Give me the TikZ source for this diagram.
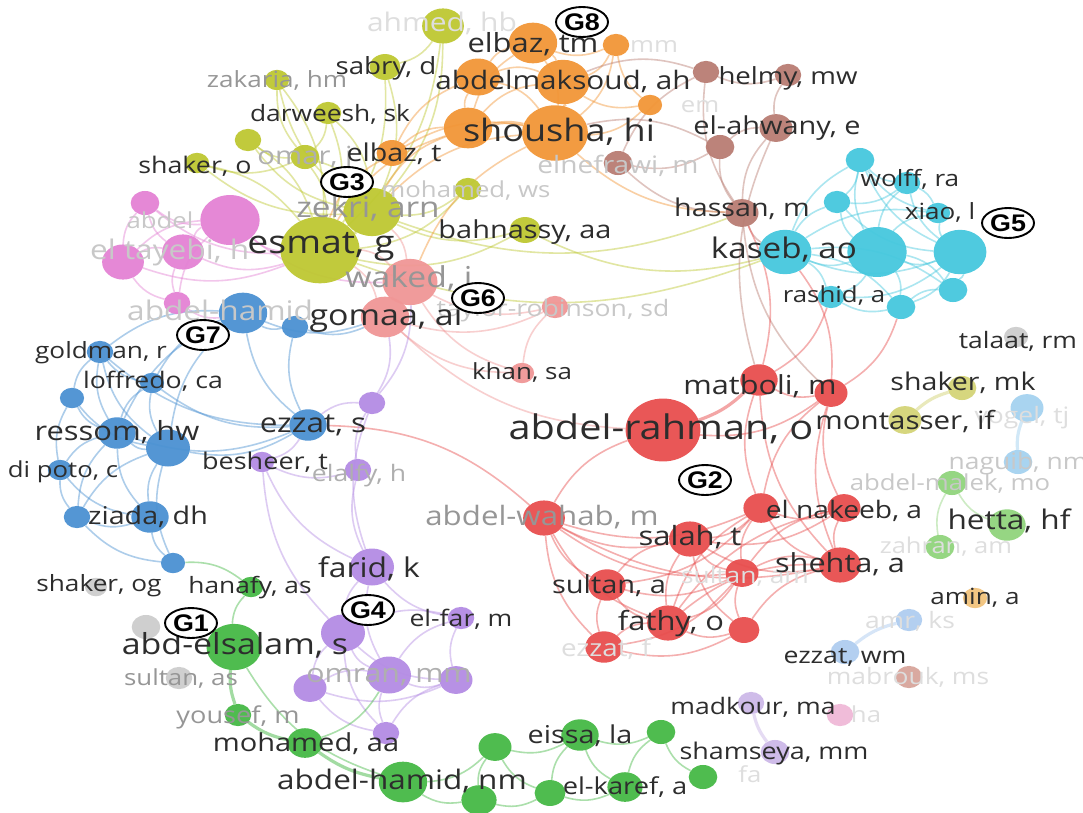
\documentclass[tikz,border=0pt]{standalone}
\usepackage{fontspec}
\setmainfont{Open Sans}[FakeStretch=1.17]
\newfontfamily\gfont{Liberation Sans}[FakeStretch=1.12]
\usetikzlibrary{shapes.geometric}
\pgfdeclarelayer{bgw}\pgfdeclarelayer{edges}\pgfdeclarelayer{labels}
\pgfsetlayers{bgw,edges,main,labels}

\definecolor{cRed}{RGB}{232,78,78}
\definecolor{cGreen}{RGB}{70,185,70}
\definecolor{cBlue}{RGB}{75,145,210}
\definecolor{cYel}{RGB}{190,200,50}
\definecolor{cPur}{RGB}{180,140,228}
\definecolor{cCyan}{RGB}{70,200,222}
\definecolor{cOra}{RGB}{242,150,55}
\definecolor{cBrn}{RGB}{185,125,115}
\definecolor{cPink}{RGB}{228,130,212}
\definecolor{cSal}{RGB}{240,150,150}
\definecolor{cLBlue}{RGB}{165,210,240}
\definecolor{cGray}{RGB}{205,205,205}
\definecolor{cTan}{RGB}{242,195,125}
\definecolor{cLGreen}{RGB}{145,212,125}
\definecolor{cOlive}{RGB}{212,212,120}
\definecolor{cLPur}{RGB}{205,185,232}
\definecolor{cLPink}{RGB}{240,185,215}
\definecolor{cLBrn}{RGB}{215,165,155}
\definecolor{cPeri}{RGB}{175,205,240}
\definecolor{txt}{RGB}{45,45,45}
\definecolor{gA}{RGB}{150,150,150}
\definecolor{gB}{RGB}{175,175,175}
\definecolor{gC}{RGB}{200,200,200}
\definecolor{gD}{RGB}{222,222,222}

\tikzset{
  dot/.style={ellipse, inner sep=0pt, draw=none, fill opacity=.95},
  ed/.style={draw=#1, line width=1.6pt, draw opacity=.45, bend right=20},
  edl/.style={draw=#1, line width=1.6pt, draw opacity=.45, bend left=20},
  edw/.style={draw=#1, line width=3.2pt, draw opacity=.5, bend right=12},
  lab/.style={anchor=base, inner sep=0pt, text=txt},
  glab/.style={ellipse, draw=black, line width=1.9pt, fill=white, inner sep=0pt,
    minimum width=52pt, minimum height=30pt,
    font=\gfont\bfseries\fontsize{24}{24}\selectfont}
}
% node: name, x, y, radius, colour
\newcommand\nd[5]{\node[dot,fill=#5,minimum width={2.2*#4},minimum height={1.85*#4}] (#1) at (#2,#3) {};}
% label: style, name, x, y (centre), size, text
\newcommand\lb[6]{\node[lab,#1,font=\fontsize{#5}{#5}\selectfont] (#2) at (#3,{#4+0.27*#5}) {#6};}

\begin{document}
\begin{tikzpicture}[x=1pt,y=-1pt]
\useasboundingbox (0,0) rectangle (1083,812);
\begin{pgfonlayer}{bgw}
  \fill[white] (0,0) rectangle (1083,812);
\end{pgfonlayer}

% ---------- nodes ----------
% yellow cluster
\nd{y_ahmed}{443}{26}{19}{cYel}
\nd{y_sabry}{385}{67}{14}{cYel}
\nd{y_zakaria}{277}{80}{11}{cYel}
\nd{y_darweesh}{328}{113}{12}{cYel}
\nd{y_a}{248}{140}{12}{cYel}
\nd{y_shaker}{197}{163}{11}{cYel}
\nd{y_omar}{305}{157}{13}{cYel}
\nd{y_mohws}{468}{189}{12}{cYel}
\nd{y_zekri}{372}{212}{26}{cYel}
\nd{y_esmat}{320}{250}{36}{cYel}
\nd{y_bahn}{525}{230}{14}{cYel}
% orange cluster
\nd{o_elbaztm}{533}{43}{22}{cOra}
\nd{o_a}{616}{45}{12}{cOra}
\nd{o_c}{478}{77}{20}{cOra}
\nd{o_abdelm}{563}{82}{24}{cOra}
\nd{o_b}{650}{105}{11}{cOra}
\nd{o_d}{468}{128}{22}{cOra}
\nd{o_shousha}{555}{133}{30}{cOra}
\nd{o_elbazt}{392}{153}{14}{cOra}
% brown cluster
\nd{b_a}{706}{72}{12}{cBrn}
\nd{b_helmy}{788}{75}{12}{cBrn}
\nd{b_ahw}{776}{128}{15}{cBrn}
\nd{b_b}{720}{147}{13}{cBrn}
\nd{b_nef}{618}{163}{13}{cBrn}
\nd{b_hassan}{742}{213}{15}{cBrn}
% cyan cluster
\nd{c_a}{860}{160}{13}{cCyan}
\nd{c_wolff}{907}{183}{12}{cCyan}
\nd{c_b}{837}{202}{12}{cCyan}
\nd{c_xiao}{938}{213}{11}{cCyan}
\nd{c_kaseb}{785}{252}{24}{cCyan}
\nd{c_big}{877}{252}{27}{cCyan}
\nd{c_right}{960}{252}{24}{cCyan}
\nd{c_rashid}{831}{297}{12}{cCyan}
\nd{c_d}{901}{307}{13}{cCyan}
\nd{c_e}{953}{290}{13}{cCyan}
% red cluster
\nd{r_matboli}{759}{380}{17}{cRed}
\nd{r_a}{831}{393}{15}{cRed}
\nd{r_rahman}{663}{430}{34}{cRed}
\nd{r_wahab}{544}{518}{19}{cRed}
\nd{r_nak1}{761}{508}{16}{cRed}
\nd{r_nak2}{844}{508}{15}{cRed}
\nd{r_salah}{690}{539}{19}{cRed}
\nd{r_shehta}{840}{565}{19}{cRed}
\nd{r_sultam}{742}{573}{15}{cRed}
\nd{r_sultana}{607}{585}{17}{cRed}
\nd{r_fathy}{668}{623}{19}{cRed}
\nd{r_b}{744}{630}{14}{cRed}
\nd{r_ezzat}{604}{647}{17}{cRed}
% salmon cluster
\nd{s_waked}{410}{282}{25}{cSal}
\nd{s_gomaa}{385}{317}{22}{cSal}
\nd{s_taylor}{555}{307}{12}{cSal}
\nd{s_khan}{522}{373}{11}{cSal}
% pink cluster
\nd{p_a}{145}{203}{13}{cPink}
\nd{p_big}{230}{220}{27}{cPink}
\nd{p_b}{183}{252}{19}{cPink}
\nd{p_c}{123}{262}{19}{cPink}
\nd{p_d}{177}{303}{12}{cPink}
% blue cluster
\nd{bl_hamid}{243}{313}{22}{cBlue}
\nd{bl_a}{295}{327}{12}{cBlue}
\nd{bl_goldman}{100}{352}{12}{cBlue}
\nd{bl_lof}{152}{383}{11}{cBlue}
\nd{bl_c}{72}{398}{11}{cBlue}
\nd{bl_ressom}{117}{433}{17}{cBlue}
\nd{bl_d}{168}{448}{20}{cBlue}
\nd{bl_ezzat}{308}{425}{17}{cBlue}
\nd{bl_dipoto}{60}{470}{11}{cBlue}
\nd{bl_e}{77}{517}{12}{cBlue}
\nd{bl_ziada}{150}{517}{17}{cBlue}
\nd{bl_f}{173}{563}{11}{cBlue}
% purple cluster
\nd{l_a}{372}{403}{12}{cPur}
\nd{l_besheer}{262}{462}{11}{cPur}
\nd{l_elalfy}{358}{470}{12}{cPur}
\nd{l_farid}{372}{567}{20}{cPur}
\nd{l_elfar}{461}{618}{12}{cPur}
\nd{l_big}{343}{633}{20}{cPur}
\nd{l_omran}{389}{675}{20}{cPur}
\nd{l_b}{310}{688}{15}{cPur}
\nd{l_c}{456}{680}{15}{cPur}
\nd{l_d}{386}{733}{12}{cPur}
% green cluster
\nd{g_hanafy}{251}{587}{11}{cGreen}
\nd{g_abd}{234}{647}{25}{cGreen}
\nd{g_yousef}{238}{715}{12}{cGreen}
\nd{g_moh}{305}{743}{16}{cGreen}
\nd{g_hamid}{403}{782}{22}{cGreen}
\nd{g_a}{479}{800}{16}{cGreen}
\nd{g_b}{495}{747}{15}{cGreen}
\nd{g_eissa}{580}{735}{17}{cGreen}
\nd{g_c}{661}{732}{13}{cGreen}
\nd{g_karef}{625}{787}{16}{cGreen}
\nd{g_d}{550}{793}{14}{cGreen}
\nd{g_e}{703}{777}{13}{cGreen}
% small groups
\nd{lg_malek}{952}{483}{13}{cLGreen}
\nd{lg_hetta}{1007}{525}{17}{cLGreen}
\nd{lg_zahran}{940}{547}{13}{cLGreen}
\nd{gr_talaat}{1016}{337}{11}{cGray}
\nd{gr_og}{96}{587}{10}{cGray}
\nd{gr_a}{146}{627}{13}{cGray}
\nd{gr_as}{179}{678}{12}{cGray}
\nd{ol_mk}{962}{388}{13}{cOlive}
\nd{ol_mont}{905}{420}{15}{cOlive}
\nd{lb_vogel}{1027}{408}{15}{cLBlue}
\nd{lb_naguib}{1018}{462}{13}{cLBlue}
\nd{tn_amin}{975}{598}{11}{cTan}
\nd{pb_amr}{909}{620}{12}{cPeri}
\nd{pb_wm}{845}{652}{13}{cPeri}
\nd{lbr_mab}{909}{677}{12}{cLBrn}
\nd{lv_mad}{751}{703}{12}{cLPur}
\nd{lv_sham}{775}{752}{13}{cLPur}
\nd{lp_ha}{840}{715}{12}{cLPink}

% ---------- links ----------
\begin{pgfonlayer}{edges}
\foreach \a/\b in {y_esmat/y_omar,y_esmat/y_a,y_esmat/y_shaker,y_esmat/y_darweesh,y_esmat/y_sabry,
  y_esmat/y_zakaria,y_esmat/y_ahmed,y_esmat/y_bahn,y_esmat/y_mohws,y_zekri/y_sabry,y_zekri/y_ahmed,
  y_zekri/y_bahn,y_zekri/y_omar,y_zekri/y_darweesh,y_zekri/y_mohws,y_omar/y_darweesh,y_a/y_omar,
  y_shaker/y_omar,y_zakaria/y_omar,y_sabry/y_ahmed,y_shaker/y_zekri,y_a/y_zekri,y_zakaria/y_zekri,
  y_bahn/c_kaseb,y_esmat/c_kaseb,y_zekri/b_hassan}
  \draw[ed=cYel] (\a) to (\b);
\draw[edw=cYel] (y_esmat) to (y_zekri);
\foreach \a/\b in {o_shousha/o_elbaztm,o_shousha/o_c,o_shousha/o_a,o_shousha/o_b,o_shousha/o_elbazt,
  o_abdelm/o_elbaztm,o_abdelm/o_c,o_abdelm/o_a,o_abdelm/o_d,o_abdelm/o_b,o_elbaztm/o_a,o_elbaztm/o_c,
  o_elbaztm/o_d,o_c/o_d,o_d/o_elbazt,o_c/o_elbazt,o_a/o_b,o_d/y_esmat,o_shousha/y_zekri,
  o_shousha/b_hassan,o_shousha/s_waked,o_d/y_zekri,o_elbazt/y_esmat}
  \draw[ed=cOra] (\a) to (\b);
\draw[edw=cOra] (o_shousha) to (o_d);
\draw[edw=cOra] (o_shousha) to (o_abdelm);
\foreach \a/\b in {b_a/b_helmy,b_helmy/b_ahw,b_ahw/b_b,b_b/b_hassan,b_ahw/b_hassan,b_nef/b_b,
  b_nef/b_hassan,b_a/b_nef,b_a/b_hassan,b_hassan/c_kaseb,b_ahw/r_matboli,b_hassan/r_a,
  b_b/o_shousha,b_a/o_abdelm}
  \draw[ed=cBrn] (\a) to (\b);
\foreach \a/\b in {c_kaseb/c_big,c_kaseb/c_right,c_big/c_right,c_a/c_wolff,c_a/c_big,c_wolff/c_big,
  c_wolff/c_right,c_xiao/c_right,c_xiao/c_big,c_b/c_big,c_b/c_kaseb,c_rashid/c_kaseb,c_rashid/c_big,
  c_d/c_big,c_d/c_right,c_e/c_right,c_e/c_big,c_d/c_kaseb,c_a/c_kaseb,c_xiao/c_wolff,c_e/c_d,
  c_rashid/c_d,c_a/c_right,c_b/c_right,c_xiao/c_kaseb,c_e/c_kaseb,c_a/c_xiao,c_b/c_wolff,
  c_rashid/c_right,c_b/c_a}
  \draw[ed=cCyan] (\a) to (\b);
\foreach \a/\b in {r_rahman/r_a,r_rahman/r_wahab,r_matboli/r_a,r_a/r_nak2,r_a/r_shehta,
  r_matboli/r_nak1,r_wahab/r_salah,r_wahab/r_sultana,r_wahab/r_fathy,r_wahab/r_sultam,r_wahab/r_ezzat,
  r_wahab/r_nak1,r_salah/r_nak1,r_salah/r_nak2,r_salah/r_shehta,r_salah/r_sultana,r_salah/r_fathy,
  r_salah/r_sultam,r_salah/r_b,r_nak1/r_nak2,r_nak1/r_shehta,r_nak2/r_shehta,r_nak1/r_sultam,
  r_shehta/r_sultam,r_shehta/r_fathy,r_shehta/r_b,r_sultana/r_fathy,r_sultana/r_ezzat,
  r_sultana/r_sultam,r_fathy/r_ezzat,r_fathy/r_b,r_fathy/r_sultam,r_ezzat/r_b,r_sultam/r_b,
  r_nak2/r_sultam,r_nak2/r_fathy,r_nak1/r_fathy,r_wahab/r_shehta,r_sultana/r_nak1,r_ezzat/r_sultam,
  r_a/r_nak1,r_matboli/r_shehta,r_matboli/c_rashid,r_a/c_d,r_a/c_kaseb,r_matboli/b_hassan}
  \draw[ed=cRed] (\a) to (\b);
\draw[edl=cRed] (bl_ezzat) to (r_wahab);
\draw[edw=cRed] (r_rahman) to (r_matboli);
\foreach \a/\b in {s_waked/s_taylor,s_gomaa/s_taylor,s_taylor/s_khan,s_gomaa/s_khan,s_waked/s_khan,
  s_waked/y_esmat,s_gomaa/y_esmat,s_waked/y_zekri,s_gomaa/r_rahman}
  \draw[ed=cSal] (\a) to (\b);
\draw[edw=cSal] (s_waked) to (s_gomaa);
\foreach \a/\b in {p_a/p_big,p_a/p_b,p_a/p_c,p_big/p_b,p_big/p_c,p_b/p_c,p_b/p_d,p_c/p_d,p_big/p_d,
  p_big/y_esmat,p_c/y_esmat,p_a/y_esmat,p_b/y_esmat,p_d/bl_hamid,p_big/s_waked}
  \draw[ed=cPink] (\a) to (\b);
\foreach \a/\b in {bl_hamid/bl_a,bl_hamid/bl_goldman,bl_hamid/bl_ressom,bl_hamid/bl_d,
  bl_hamid/bl_ezzat,bl_hamid/bl_lof,bl_goldman/bl_lof,bl_goldman/bl_c,bl_goldman/bl_ressom,
  bl_lof/bl_ressom,bl_lof/bl_d,bl_c/bl_ressom,bl_c/bl_dipoto,bl_ressom/bl_d,bl_ressom/bl_dipoto,
  bl_ressom/bl_ziada,bl_ressom/bl_e,bl_d/bl_ziada,bl_d/bl_e,bl_d/bl_ezzat,bl_dipoto/bl_e,
  bl_dipoto/bl_ziada,bl_e/bl_ziada,bl_ziada/bl_f,bl_e/bl_f,bl_d/bl_f,bl_ressom/bl_ezzat,bl_a/bl_ezzat,
  bl_goldman/bl_ezzat,bl_lof/bl_ezzat,bl_hamid/s_gomaa,bl_a/s_gomaa,bl_c/bl_d,bl_goldman/bl_d}
  \draw[ed=cBlue] (\a) to (\b);
\foreach \a/\b in {l_a/bl_ezzat,l_a/l_elalfy,l_a/l_farid,l_besheer/bl_ezzat,l_besheer/l_elalfy,
  l_besheer/l_farid,l_elalfy/l_farid,l_farid/l_big,l_farid/l_omran,l_farid/l_elfar,l_big/l_omran,
  l_big/l_b,l_big/l_c,l_omran/l_b,l_omran/l_c,l_omran/l_d,l_b/l_d,l_c/l_d,l_elfar/l_c,l_elfar/l_omran,
  l_big/l_d,l_b/l_c,l_a/s_gomaa,l_besheer/l_big,l_elfar/l_big,l_a/s_waked}
  \draw[ed=cPur] (\a) to (\b);
\foreach \a/\b in {g_hanafy/g_abd,g_hamid/g_a,g_hamid/g_b,g_b/g_eissa,g_b/g_d,g_a/g_d,g_eissa/g_c,
  g_eissa/g_karef,g_eissa/g_d,g_c/g_karef,g_c/g_e,g_d/g_karef,g_moh/l_omran,g_hanafy/bl_f,
  g_abd/g_hamid,g_b/g_a}
  \draw[ed=cGreen] (\a) to (\b);
\foreach \a/\b in {g_abd/g_yousef,g_yousef/g_moh,g_moh/g_hamid}
  \draw[edw=cGreen] (\a) to (\b);
\draw[ed=cLGreen] (lg_malek) to (lg_hetta);
\draw[ed=cLGreen] (lg_malek) to (lg_zahran);
\draw[edw=cOlive] (ol_mk) to (ol_mont);
\draw[edw=cLBlue] (lb_vogel) to (lb_naguib);
\draw[edw=cPeri] (pb_amr) to (pb_wm);
\draw[edw=cLPur] (lv_mad) to (lv_sham);
\end{pgfonlayer}

% ---------- labels ----------
\begin{pgfonlayer}{labels}
% faint labels
\lb{text=gD}{t_ahmed}{442}{25}{25.6}{ahmed, hb}
\lb{text=gD}{t_mm}{654}{47}{22}{mm}
\lb{text=gD}{t_em}{700}{107}{22}{em}
\lb{text=gC}{t_nef}{618}{167}{24}{elnefrawi, m}
\lb{text=gC}{t_mohws}{466}{192}{22}{mohamed, ws}
\node[lab,anchor=base west,text=gC,font=\fontsize{27}{27}\selectfont] (t_eltay) at (90,{252+0.27*27}) {el tayebi, h};
\lb{text=gC}{t_abdel}{160}{223}{22}{abdel}
\node[lab,anchor=base west,text=gC,font=\fontsize{27}{27}\selectfont] (t_hamidb) at (127,{313+0.27*27}) {abdel-hamid};
\lb{text=gC}{t_taylor}{553}{310}{22.7}{taylor-robinson, sd}
\lb{text=gD}{t_vogel}{1022}{417}{22.6}{vogel, tj}
\lb{text=gC}{t_naguib}{1018}{463}{22.6}{naguib, nm}
\lb{text=gC}{t_malek}{950}{485}{22}{abdel-malek, mo}
\lb{text=gD}{t_zahran}{946}{548}{21.8}{zahran, am}
\lb{text=gD}{t_sultam}{745}{577}{22.5}{sultan, am}
\lb{text=gD}{t_amr}{910}{622}{22.6}{amr, ks}
\lb{text=gD}{t_ezzatf}{606}{650}{23.7}{ezzat, f}
\lb{text=gD}{t_mab}{908}{678}{22.6}{mabrouk, ms}
\lb{text=gD}{t_ha}{866}{717}{22}{ha}
\lb{text=gD}{t_fa}{750}{777}{22}{fa}
% grey labels
\lb{text=gA}{t_zakaria}{277}{81}{22.3}{zakaria, hm}
\lb{text=gB}{t_omar}{305}{158}{25}{omar, j}
\lb{text=gA}{t_zekri}{368}{210}{28.5}{zekri, arn}
\lb{text=gA}{t_waked}{409}{280}{28.8}{waked, j}
\lb{text=gB}{t_elalfy}{359}{475}{22.7}{elalfy, h}
\lb{text=gA}{t_wahab}{542}{518}{26.7}{abdel-wahab, m}
\lb{text=gB}{t_omran}{389}{675}{25.9}{omran, mm}
\lb{text=gA}{t_sultanas}{181}{680}{22.1}{sultan, as}
\lb{text=gA}{t_yousef}{238}{717}{23.2}{yousef, m}
% dark labels
\lb{}{t_elbaztm}{533}{45}{26.4}{elbaz, tm}
\lb{}{t_sabry}{386}{68}{23.7}{sabry, d}
\lb{}{t_abdelm}{563}{83}{25.4}{abdelmaksoud, ah}
\lb{}{t_helmy}{788}{78}{23.6}{helmy, mw}
\lb{}{t_darw}{330}{115}{22.5}{darweesh, sk}
\lb{}{t_ahw}{777}{128}{24.7}{el-ahwany, e}
\lb{}{t_shousha}{559}{133}{30.8}{shousha, hi}
\lb{}{t_shaker}{195}{167}{22.9}{shaker, o}
\lb{}{t_elbazt}{394}{155}{24.5}{elbaz, t}
\lb{}{t_wolff}{910}{180}{22.4}{wolff, ra}
\lb{}{t_xiao}{940}{213}{22.3}{xiao, l}
\lb{}{t_hassan}{742}{210}{24.5}{hassan, m}
\lb{}{t_bahn}{525}{232}{24.7}{bahnassy, aa}
\lb{}{t_esmat}{321}{245}{32}{esmat, g}
\lb{}{t_kaseb}{784}{251}{28.4}{kaseb, ao}
\lb{}{t_gomaa}{386}{318}{29}{gomaa, ai}
\lb{}{t_rashid}{834}{297}{22.1}{rashid, a}
\lb{}{t_talaat}{1018}{342}{22.6}{talaat, rm}
\lb{}{t_goldman}{101}{352}{22.4}{goldman, r}
\lb{}{t_khan}{522}{373}{22.2}{khan, sa}
\lb{}{t_lof}{153}{382}{22.8}{loffredo, ca}
\lb{}{t_shakermk}{963}{384}{24.4}{shaker, mk}
\lb{}{t_matboli}{760}{387}{26.2}{matboli, m}
\lb{}{t_mont}{905}{423}{25.2}{montasser, if}
\lb{}{t_ressom}{117}{433}{26.4}{ressom, hw}
\lb{}{t_ezzat}{313}{425}{26.9}{ezzat, s}
\lb{}{t_rahman}{661}{430}{33.9}{abdel-rahman, o}
\lb{}{t_besheer}{265}{463}{23.1}{besheer, t}
\lb{}{t_dipoto}{63}{472}{22}{di poto, c}
\lb{}{t_nakeeb}{844}{512}{24.1}{el nakeeb, a}
\lb{}{t_ziada}{148}{518}{24.5}{ziada, dh}
\lb{}{t_hetta}{1009}{522}{27}{hetta, hf}
\lb{}{t_salah}{690}{538}{26.5}{salah, t}
\lb{}{t_shehta}{840}{565}{26.2}{shehta, a}
\lb{}{t_farid}{369}{570}{27.2}{farid, k}
\lb{}{t_shakerog}{99}{585}{22.4}{shaker, og}
\lb{}{t_hanafy}{250}{587}{22.5}{hanafy, as}
\lb{}{t_sultana}{609}{587}{24.8}{sultan, a}
\lb{}{t_amin}{975}{598}{22.3}{amin, a}
\lb{}{t_elfar}{461}{620}{22.7}{el-far, m}
\lb{}{t_fathy}{671}{623}{26.4}{fathy, o}
\lb{}{t_abd}{235}{647}{29}{abd-elsalam, s}
\lb{}{t_ezzatwm}{845}{657}{22.8}{ezzat, wm}
\lb{}{t_mad}{753}{708}{22.7}{madkour, ma}
\lb{}{t_eissa}{580}{737}{24.6}{eissa, la}
\lb{}{t_mohaa}{306}{745}{24.8}{mohamed, aa}
\lb{}{t_sham}{774}{753}{23}{shamseya, mm}
\lb{}{t_hamid}{402}{782}{26.9}{abdel-hamid, nm}
\lb{}{t_karef}{625}{788}{23.3}{el-karef, a}
% group markers
\node[glab] (G1) at (191,623) {G1};
\node[glab] (G2) at (705,480) {G2};
\node[glab] (G3) at (347,182) {G3};
\node[glab] (G4) at (368,610) {G4};
\node[glab] (G5) at (1008,223) {G5};
\node[glab] (G6) at (478,298) {G6};
\node[glab] (G7) at (203,335) {G7};
\node[glab] (G8) at (582,22) {G8};
\end{pgfonlayer}
\end{tikzpicture}
\end{document}
